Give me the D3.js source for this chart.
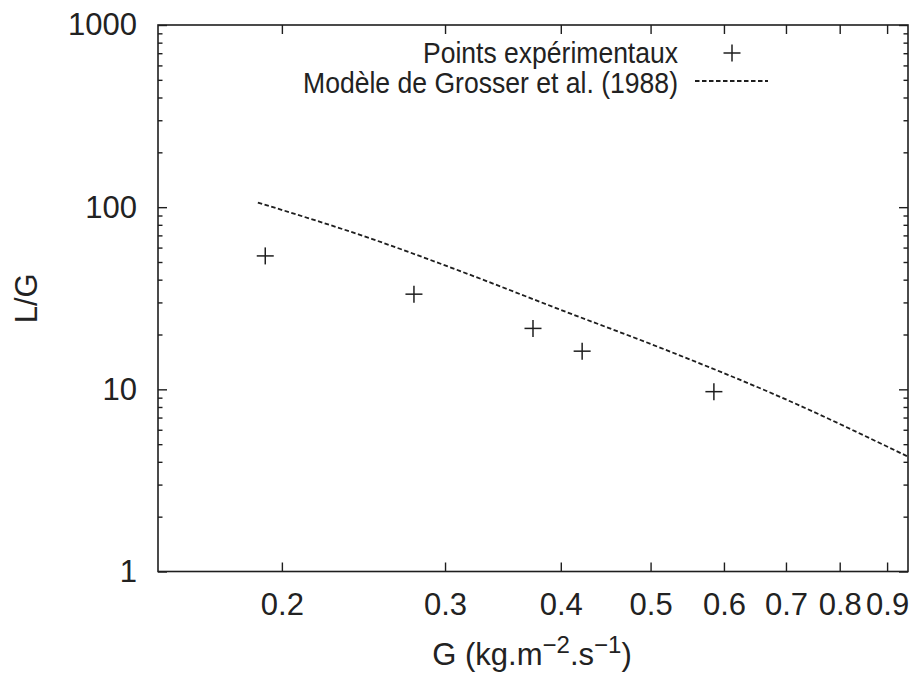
<!DOCTYPE html>
<html>
<head>
<meta charset="utf-8">
<script src="https://cdn.jsdelivr.net/npm/d3@7"></script>
<style>
  html, body { margin: 0; padding: 0; background: #fff; }
  svg { display: block; }
  text { font-family: "Liberation Sans", Arial, Helvetica, sans-serif; fill: #222; }
</style>
</head>
<body>
<svg id="chart" width="912" height="676"></svg>
<script>
// ---- data ----
const expG  = [0.1919, 0.2777, 0.3733, 0.4218, 0.5852];
const expLG = [54.0, 33.3, 21.6, 16.2, 9.71];

const modelG  = [0.1884, 0.25, 0.3111, 0.40, 0.5117, 0.70, 0.9454];
const modelLG = [106, 67, 44.7, 27.3, 16.95, 8.8, 4.30];

const xTicks = [0.2, 0.3, 0.4, 0.5, 0.6, 0.7, 0.8, 0.9];
const xTickLabels = ["0.2", "0.3", "0.4", "0.5", "0.6", "0.7", "0.8", "0.9"];
const yTicks = [1, 10, 100, 1000];
const yTickLabels = ["1", "10", "100", "1000"];
const legendLabels = ["Points expérimentaux", "Modèle de Grosser et al. (1988)"];

// ---- layout ----
const mLeft = 158, mRight = 908, mTop = 25, mBottom = 571.5;
const ink = "#1e1e1e";
const tickFs = 31;
const legFs = 29;

const svg = d3.select("#chart");

const x = d3.scaleLog().domain([0.147, 0.948]).range([mLeft, mRight]);
const y = d3.scaleLog().domain([1, 1000]).range([mBottom, mTop]);

// minor y ticks 2..9 per decade
const yMinor = [];
for (let d = 1; d < 1000; d *= 10) for (let k = 2; k <= 9; k++) yMinor.push(d * k);

function styleAxis(g) {
  g.select(".domain").remove();
  g.selectAll("line").attr("stroke", ink).attr("stroke-width", 1.4);
  g.selectAll("text").attr("font-size", tickFs).attr("fill", ink)
    .attr("font-family", '"Liberation Sans", Arial, Helvetica, sans-serif');
}

// bottom axis (labels)
svg.append("g").attr("transform", `translate(0,${mBottom})`)
  .call(d3.axisBottom(x).tickValues(xTicks)
    .tickFormat((d, i) => xTickLabels[i]).tickSize(-9).tickSizeOuter(0).tickPadding(21))
  .call(styleAxis);
// top axis (mirror ticks)
svg.append("g").attr("transform", `translate(0,${mTop})`)
  .call(d3.axisTop(x).tickValues(xTicks).tickFormat("").tickSize(-9).tickSizeOuter(0))
  .call(styleAxis);
// left axis major
svg.append("g").attr("transform", `translate(${mLeft},0)`)
  .call(d3.axisLeft(y).tickValues(yTicks)
    .tickFormat((d, i) => yTickLabels[i]).tickSize(-9).tickSizeOuter(0).tickPadding(21))
  .call(styleAxis);
// left axis minor
svg.append("g").attr("transform", `translate(${mLeft},0)`)
  .call(d3.axisLeft(y).tickValues(yMinor).tickFormat("").tickSize(-4.5).tickSizeOuter(0))
  .call(styleAxis);
// right axis major + minor
svg.append("g").attr("transform", `translate(${mRight},0)`)
  .call(d3.axisRight(y).tickValues(yTicks).tickFormat("").tickSize(-9).tickSizeOuter(0))
  .call(styleAxis);
svg.append("g").attr("transform", `translate(${mRight},0)`)
  .call(d3.axisRight(y).tickValues(yMinor).tickFormat("").tickSize(-4.5).tickSizeOuter(0))
  .call(styleAxis);

// frame
svg.append("rect")
  .attr("x", mLeft).attr("y", mTop)
  .attr("width", mRight - mLeft).attr("height", mBottom - mTop)
  .attr("fill", "none").attr("stroke", ink).attr("stroke-width", 1.6);

// model curve (dashed)
const line = d3.line().x(d => x(d[0])).y(d => y(d[1])).curve(d3.curveMonotoneX);
svg.append("path")
  .datum(modelG.map((g, i) => [g, modelLG[i]]))
  .attr("d", line)
  .attr("fill", "none").attr("stroke", ink).attr("stroke-width", 1.8)
  .attr("stroke-dasharray", "4.5,2.5");

// experimental points (+)
const ps = 8.5;
function plus(sel) {
  sel.append("line").attr("x1", -ps).attr("x2", ps).attr("y1", 0).attr("y2", 0);
  sel.append("line").attr("x1", 0).attr("x2", 0).attr("y1", -ps).attr("y2", ps);
  sel.selectAll("line").attr("stroke", ink).attr("stroke-width", 1.5);
}
svg.append("g").selectAll("g")
  .data(expG.map((g, i) => [g, expLG[i]]))
  .join("g")
  .attr("transform", d => `translate(${x(d[0])},${y(d[1])})`)
  .each(function () { plus(d3.select(this)); });

// legend
const lg = svg.append("g");
lg.append("text").attr("x", 678).attr("y", 63).attr("text-anchor", "end")
  .attr("font-size", legFs).attr("textLength", 255).attr("lengthAdjust", "spacingAndGlyphs")
  .text(legendLabels[0]);
lg.append("text").attr("x", 678).attr("y", 93).attr("text-anchor", "end")
  .attr("font-size", legFs).attr("textLength", 375).attr("lengthAdjust", "spacingAndGlyphs")
  .text(legendLabels[1]);
plus(lg.append("g").attr("transform", "translate(732,53)"));
lg.append("line").attr("x1", 695).attr("x2", 768).attr("y1", 81).attr("y2", 81)
  .attr("stroke", ink).attr("stroke-width", 1.8).attr("stroke-dasharray", "4.5,2.5");

// axis titles
const xt = svg.append("text").attr("x", 532).attr("y", 665)
  .attr("text-anchor", "middle").attr("font-size", 31);
xt.append("tspan").text("G (kg.m");
xt.append("tspan").attr("dy", -12).attr("font-size", 24).text("−2");
xt.append("tspan").attr("dy", 12).text(".s");
xt.append("tspan").attr("dy", -12).attr("font-size", 24).text("−1");
xt.append("tspan").attr("dy", 12).text(")");

svg.append("text")
  .attr("transform", `translate(37,${(mTop + mBottom) / 2}) rotate(-90)`)
  .attr("text-anchor", "middle").attr("font-size", 31).text("L/G");
</script>
</body>
</html>
